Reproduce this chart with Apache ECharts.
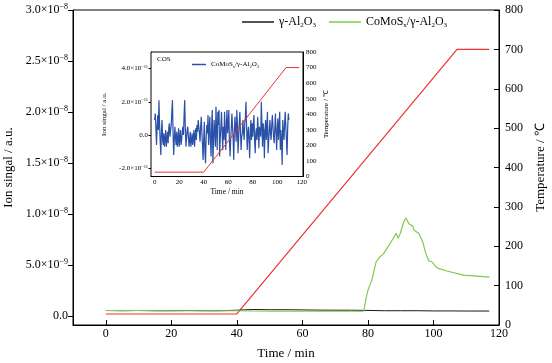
<!DOCTYPE html>
<html><head><meta charset="utf-8">
<script src="https://cdn.jsdelivr.net/npm/echarts@6/dist/echarts.min.js"></script>
<style>html,body{margin:0;padding:0;background:#fff}#c{width:552px;height:363px}</style>
</head><body><div id="c"></div>
<script>
// Main chart: time (min) and ion signal (units of 1e-9)
const blackT = [0,5,10,15,20,25,30,35,40,45,50,55,60,65,70,75,80,85,90,95,100,105,110,117];
const blackV = [0.52,0.5,0.52,0.5,0.5,0.52,0.5,0.5,0.55,0.62,0.6,0.6,0.58,0.56,0.55,0.55,0.53,0.5,0.5,0.5,0.48,0.48,0.47,0.47];
const greenT = [0,10,20,30,40,50,60,70,78.7,79.5,80.1,80.7,81.2,82.5,83.7,84.8,86.8,88.6,89.2,89.9,90.9,91.6,92.1,92.6,93.1,93.7,94.1,95.5,96.8,97.5,98,98.5,99.5,101.1,104.1,109.2,117.1];
const greenV = [0.52,0.52,0.5,0.5,0.5,0.45,0.45,0.45,0.45,1.8,2.6,2.5,3.5,5.3,5.8,6.1,7.1,8.1,7.6,8.1,9.2,9.6,9.5,9.0,9.1,8.8,8.4,8.1,7.2,6.3,6.2,5.4,5.3,4.7,4.4,4.0,3.8];
const tempT = [0,40,107.2,117];
const tempV = [28,28,700,700];
const tempInsetT = [0,40,107.2,118];
const tempInsetV = [28,28,700,700];
// Inset: COS signal (units of 1e-11), sampled every 0.5 min from 0 to 110
const cosStep = 0.5;
const cosV = [
 0.9,1.3,0.4,-0.6,0.5,1.2,0.3,2.1,0.6,-0.4,-1.2,0.2,0.9,-0.3,-0.6,0.1,-0.7,-0.2,0.3,-0.7,
 -0.3,0.2,-0.5,0.4,0.7,-0.1,0.3,0.6,1.4,2.1,0.1,-1.2,-0.3,0.5,-0.2,-0.6,0.2,-0.7,-0.3,0.4,
 -0.7,-0.2,0.3,-0.6,-0.3,0.2,0.5,0,1.2,2.1,0.4,-0.7,-0.2,0.3,0.5,-0.1,-0.7,-0.3,0.2,-0.7,
 -0.4,0.1,-0.6,-0.2,0.3,-0.7,-0.1,0.4,-0.3,0.6,0.2,0.9,0.5,0.1,-0.4,0.5,1.1,0.2,-0.6,-1.5,
 -0.3,0.8,-1.1,-1.7,-0.2,0.6,0.1,1.2,-0.6,0.4,1.1,-0.5,-1.3,0.6,1.5,-1.7,-0.4,0.9,0.2,-0.7,
 1.7,0.3,-0.9,1.4,0.6,1.5,-1.3,-0.2,0.5,1.4,0.2,-0.9,0.5,-0.3,1.4,0.1,-0.9,0.7,1.5,0.1,
 0.6,1.5,-0.4,-1.3,-0.3,0.4,1.3,0.5,-0.2,-1.5,0.2,1.1,0.3,-0.4,1.5,0.6,-1.1,-0.2,0.7,1.4,
 0.2,-0.9,-0.1,0.1,0.9,0.2,-0.3,0.7,1.1,2.0,0.4,-0.9,0.1,0.5,-0.4,-1.4,0.2,0.9,-0.3,0.7,
 -0.1,0.6,1.2,-0.3,-1.1,0.1,0.4,-0.3,1.1,0.3,-0.8,0.5,0.2,-0.1,2.0,0.6,-0.7,0.7,0.3,-1.4,
 0.2,0.9,-0.3,0.4,1.4,-1.1,-0.4,0.3,0.9,0.1,-0.3,0.6,1.2,0.5,-0.1,-0.5,0.4,1.3,0.2,-0.9,
 0.3,1.0,-0.3,0.5,1.4,-0.9,0.3,-0.4,-1.8,0.9,0.2,-0.3,0.7,1.4,0.5,-0.3,-1.2,0.4,1.3,0.9,0.9
];
const xTicks = [0,20,40,60,80,100,120];
const mainYTicks = [0,5,10,15,20,25,30];
const insetYTicks = [-2,0,2,4];

const FF = 'Liberation Serif';
const zip = (a,b) => a.map((v,i)=>[v,b[i]]);
const cosData = cosV.map((v,i)=>[i*cosStep, v]);

function mainYLabel(v){
  if (v === 0) return '{b|0.0}';
  if (v < 10) return '{b|' + v.toFixed(1) + '×10}{s|−9}';
  return '{b|' + (v/10).toFixed(1) + '×10}{s|−8}';
}
function insetYLabel(v){
  if (v === 0) return '{b|0.0}';
  return '{b|' + v.toFixed(1) + '×10}{s|−11}';
}
const legendRich = {
  a:{fontFamily:FF,fontSize:12,color:'#000',lineHeight:14},
  s:{fontFamily:FF,fontSize:7,color:'#000',verticalAlign:'bottom',lineHeight:14,padding:[6,0,0,0]}
};
const insetLegendRich = {
  a:{fontFamily:FF,fontSize:7,color:'#000',lineHeight:9},
  s:{fontFamily:FF,fontSize:4.5,color:'#000',verticalAlign:'bottom',lineHeight:9,padding:[4,0,0,0]}
};
const legendText = {
  'g1':'{a|γ-Al}{s|2}{a|O}{s|3}',
  'g2':'{a|CoMoS}{s|x}{a|/γ-Al}{s|2}{a|O}{s|3}',
  'cos':'{a|CoMoS}{s|x}{a|/γ-Al}{s|2}{a|O}{s|3}'
};
const line = {show:true,onZero:false,lineStyle:{color:'#000',width:1}};

const chart = echarts.init(document.getElementById('c'), null, {renderer:'canvas'});
chart.setOption({
  animation:false,
  backgroundColor:'#fff',
  grid:[
    {left:73,top:10,width:426,height:315,show:true,borderColor:'#000',borderWidth:1,backgroundColor:'#fff',
     containLabel:false,outerBoundsMode:'none'},
    {left:151,top:52,width:152,height:124.5,show:true,borderColor:'#000',borderWidth:1,backgroundColor:'#fff',z:5,
     containLabel:false,outerBoundsMode:'none'}
  ],
  legend:[
    {left:237,top:11,itemWidth:32,itemHeight:1.5,icon:'rect',itemGap:13,data:['g1','g2'],
     formatter:n=>legendText[n],textStyle:{rich:legendRich}},
    {left:187,top:55,itemWidth:14,itemHeight:1.5,icon:'rect',data:['cos'],z:10,
     formatter:n=>legendText[n],textStyle:{rich:insetLegendRich}}
  ],
  graphic:[{type:'text',left:157,top:56,z:100,style:{text:'COS',font:'7px "Liberation Serif"',fill:'#000'}}],
  xAxis:[
    {type:'value',gridIndex:0,min:-10,max:120,
     name:'Time / min',nameLocation:'middle',nameGap:22,nameTextStyle:{fontFamily:FF,fontSize:13,color:'#000'},
     axisLine:line,
     axisTick:{show:true,inside:true,length:5,customValues:xTicks,lineStyle:{color:'#000'}},
     axisLabel:{customValues:xTicks,fontFamily:FF,fontSize:12,color:'#000',margin:3},
     splitLine:{show:false}},
    {type:'value',gridIndex:1,min:-3,max:121,
     name:'Time / min',nameLocation:'middle',nameGap:12,nameTextStyle:{fontFamily:FF,fontSize:7.5,color:'#000'},
     axisLine:line,
     axisTick:{show:true,inside:true,length:3,customValues:xTicks,lineStyle:{color:'#000'}},
     minorTick:{show:false},
     axisLabel:{customValues:xTicks,fontFamily:FF,fontSize:7,color:'#000',margin:2},
     splitLine:{show:false}}
  ],
  yAxis:[
    {type:'value',gridIndex:0,position:'left',min:-0.9,max:30,
     name:'Ion singal / a.u.',nameLocation:'middle',nameGap:55,nameTextStyle:{fontFamily:FF,fontSize:13,color:'#000'},
     axisLine:line,
     axisTick:{show:true,inside:false,length:5,customValues:mainYTicks,lineStyle:{color:'#000'}},
     axisLabel:{customValues:mainYTicks,formatter:mainYLabel,margin:5,
       rich:{b:{fontFamily:FF,fontSize:12,color:'#000',lineHeight:14},
             s:{fontFamily:FF,fontSize:8,color:'#000',verticalAlign:'top',lineHeight:14,padding:[0,0,6,0]}}},
     splitLine:{show:false}},
    {type:'value',gridIndex:0,position:'right',min:0,max:800,interval:100,
     name:'Temperature / ℃',nameLocation:'middle',nameGap:28,nameTextStyle:{fontFamily:FF,fontSize:13,color:'#000'},
     axisLine:line,
     axisTick:{show:true,inside:true,length:5,lineStyle:{color:'#000'}},
     axisLabel:{fontFamily:FF,fontSize:12,color:'#000',margin:6},
     splitLine:{show:false}},
    {type:'value',gridIndex:1,position:'left',min:-2.5,max:5,
     name:'Ion singal / a.u.',nameLocation:'middle',nameGap:43,nameTextStyle:{fontFamily:FF,fontSize:7,color:'#000'},
     axisLine:line,
     axisTick:{show:true,inside:false,length:2.5,customValues:insetYTicks,lineStyle:{color:'#000'}},
     axisLabel:{customValues:insetYTicks,formatter:insetYLabel,margin:3,
       rich:{b:{fontFamily:FF,fontSize:7,color:'#000',lineHeight:8},
             s:{fontFamily:FF,fontSize:4.5,color:'#000',verticalAlign:'top',lineHeight:8,padding:[0,0,3,0]}}},
     splitLine:{show:false}},
    {type:'value',gridIndex:1,position:'right',min:0,max:800,interval:100,
     name:'Temperature / ℃',nameLocation:'middle',nameGap:20,nameTextStyle:{fontFamily:FF,fontSize:7,color:'#000'},
     axisLine:line,
     axisTick:{show:true,inside:true,length:3,lineStyle:{color:'#000'}},
     minorTick:{show:true,splitNumber:2,length:2,lineStyle:{color:'#000'}},
     axisLabel:{fontFamily:FF,fontSize:7,color:'#000',margin:3},
     splitLine:{show:false}}
  ],
  series:[
    {name:'g1',type:'line',xAxisIndex:0,yAxisIndex:0,data:zip(blackT,blackV),showSymbol:false,
     lineStyle:{color:'#1a1a1a',width:1},itemStyle:{color:'#1a1a1a'},z:3},
    {name:'g2',type:'line',xAxisIndex:0,yAxisIndex:0,data:zip(greenT,greenV),showSymbol:false,
     lineStyle:{color:'#7ccc4a',width:1.2},itemStyle:{color:'#7ccc4a'},z:4},
    {name:'temp',type:'line',xAxisIndex:0,yAxisIndex:1,data:zip(tempT,tempV),showSymbol:false,
     lineStyle:{color:'#f03030',width:1.2},itemStyle:{color:'#f03030'},z:2},
    {name:'cos',type:'line',xAxisIndex:1,yAxisIndex:2,data:cosData,showSymbol:false,
     lineStyle:{color:'#2a50a8',width:1.2},itemStyle:{color:'#2a50a8'},z:6},
    {name:'tempInset',type:'line',xAxisIndex:1,yAxisIndex:3,data:zip(tempInsetT,tempInsetV),showSymbol:false,
     lineStyle:{color:'#f03030',width:1},itemStyle:{color:'#f03030'},z:7}
  ]
});
</script></body></html>
